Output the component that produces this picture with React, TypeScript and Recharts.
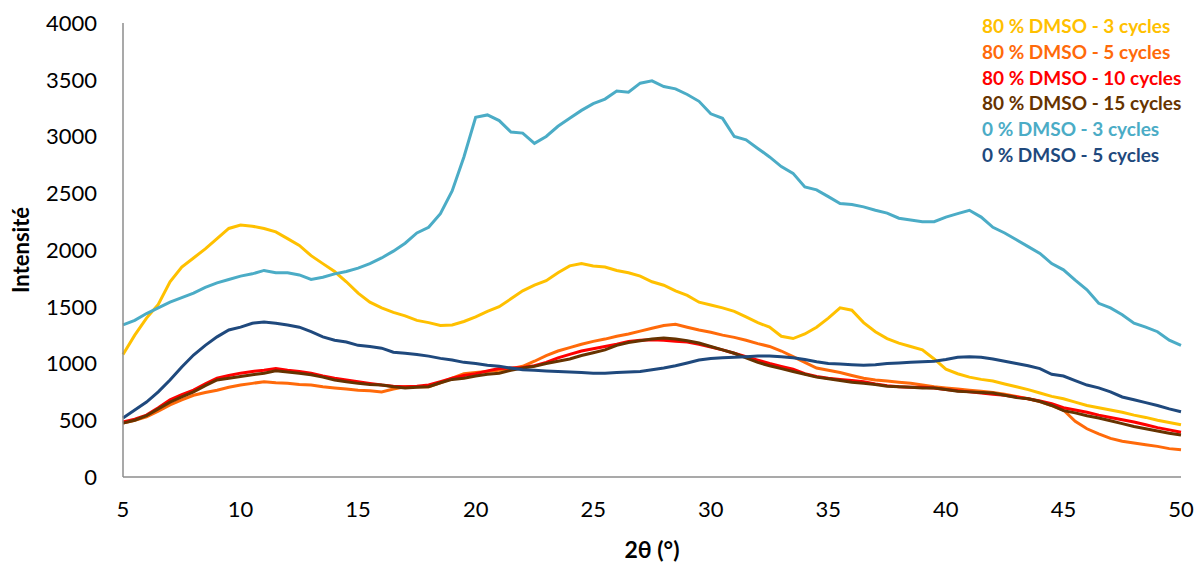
import { LineChart, Line, XAxis, YAxis } from "recharts";

// 2θ positions, every 0.5°
const angles = [
  5, 5.5, 6, 6.5, 7, 7.5, 8, 8.5, 9, 9.5, 10, 10.5, 11, 11.5, 12, 12.5, 13, 13.5, 14, 14.5,
  15, 15.5, 16, 16.5, 17, 17.5, 18, 18.5, 19, 19.5, 20, 20.5, 21, 21.5, 22, 22.5, 23, 23.5,
  24, 24.5, 25, 25.5, 26, 26.5, 27, 27.5, 28, 28.5, 29, 29.5, 30, 30.5, 31, 31.5, 32, 32.5,
  33, 33.5, 34, 34.5, 35, 35.5, 36, 36.5, 37, 37.5, 38, 38.5, 39, 39.5, 40, 40.5, 41, 41.5,
  42, 42.5, 43, 43.5, 44, 44.5, 45, 45.5, 46, 46.5, 47, 47.5, 48, 48.5, 49, 49.5, 50,
];

const dmso80c3 = [
  1080, 1250, 1400, 1520, 1720, 1850, 1930, 2010, 2100, 2190, 2220, 2210, 2190, 2160, 2100, 2040,
  1950, 1880, 1810, 1720, 1620, 1540, 1490, 1450, 1420, 1380, 1360, 1335, 1340, 1370, 1410, 1460,
  1500, 1570, 1640, 1690, 1730, 1800, 1860, 1880, 1860, 1850, 1820, 1800, 1770, 1720, 1690, 1640,
  1600, 1540, 1515, 1490, 1460, 1410, 1360, 1320, 1240, 1220, 1260, 1320, 1400, 1490, 1470, 1360,
  1280, 1220, 1180, 1150, 1120, 1040, 950, 910, 880, 860, 845, 820, 795, 770, 740, 710, 690, 660,
  630, 610, 590, 570, 545, 525, 500, 480, 460,
];

const dmso80c5 = [
  475, 500, 530, 580, 635, 680, 720, 745, 765, 790, 810, 825, 840, 830, 825, 815, 810, 795, 785,
  775, 765, 760, 750, 775, 795, 795, 795, 830, 870, 910, 920, 930, 940, 955, 975, 1020, 1070,
  1110, 1140, 1170, 1195, 1215, 1240, 1260, 1285, 1310, 1335, 1345, 1320, 1295, 1275, 1250, 1230,
  1205, 1175, 1150, 1110, 1060, 1010, 960, 940, 920, 895, 870, 855, 845, 835, 825, 810, 795, 785,
  775, 765, 755, 745, 730, 710, 690, 665, 630, 590, 490, 425, 380, 340, 315, 300, 285, 270, 250,
  240,
];

const dmso80c10 = [
  485, 510, 545, 610, 680, 725, 765, 820, 870, 895, 915, 930, 940, 955, 940, 930, 915, 890, 870,
  855, 840, 825, 810, 800, 795, 800, 810, 840, 870, 895, 910, 935, 955, 960, 965, 980, 1010, 1050,
  1080, 1110, 1130, 1150, 1170, 1195, 1205, 1210, 1205, 1195, 1190, 1170, 1145, 1120, 1090, 1060,
  1030, 1000, 975, 950, 910, 885, 870, 860, 850, 840, 820, 805, 795, 790, 790, 785, 770, 760, 750,
  740, 730, 720, 705, 690, 670, 645, 610, 590, 570, 545, 525, 505, 485, 460, 435, 415, 395,
];

const dmso80c15 = [
  475, 500, 540, 600, 660, 705, 750, 805, 855, 870, 885, 900, 915, 935, 925, 915, 900, 880, 855,
  840, 825, 815, 810, 795, 785, 790, 795, 830, 860, 870, 890, 905, 915, 940, 960, 975, 1000, 1020,
  1040, 1070, 1095, 1120, 1160, 1185, 1200, 1215, 1225, 1215, 1200, 1180, 1150, 1120, 1090, 1050,
  1010, 980, 955, 930, 905, 880, 865, 850, 835, 825, 815, 800, 795, 790, 785, 785, 770, 755, 750,
  745, 740, 720, 700, 690, 665, 630, 585, 565, 540, 520, 495, 470, 445, 425, 405, 385, 370,
];

const dmso0c3 = [
  1340, 1380, 1440, 1490, 1540, 1580, 1620, 1670, 1710, 1740, 1770, 1790, 1820, 1800, 1800, 1780,
  1740, 1760, 1790, 1810, 1840, 1880, 1930, 1990, 2060, 2150, 2200, 2320, 2520, 2820, 3170, 3190,
  3140, 3040, 3030, 2940, 3000, 3090, 3160, 3230, 3290, 3330, 3400, 3390, 3470, 3490, 3440, 3420,
  3370, 3310, 3200, 3160, 3000, 2970, 2895, 2820, 2735, 2675, 2555, 2530, 2470, 2410, 2400, 2380,
  2350, 2325, 2280, 2265, 2250, 2250, 2290, 2320, 2350, 2290, 2200, 2150, 2090, 2030, 1970, 1880,
  1825, 1735, 1650, 1530, 1490, 1430, 1355, 1320, 1280, 1205, 1160,
];

const dmso0c5 = [
  520, 590, 660, 750, 855, 970, 1075, 1160, 1235, 1295, 1320, 1355, 1365, 1355, 1340, 1320, 1280,
  1235, 1205, 1190, 1160, 1150, 1135, 1100, 1090, 1080, 1065, 1045, 1030, 1010, 1000, 985, 975,
  960, 945, 940, 935, 930, 925, 920, 915, 915, 920, 925, 930, 945, 960, 980, 1005, 1030, 1045,
  1050, 1055, 1060, 1065, 1065, 1060, 1050, 1035, 1015, 1000, 995, 990, 985, 990, 1000, 1005, 1010,
  1015, 1020, 1035, 1055, 1060, 1055, 1040, 1020, 1000, 980, 955, 905, 890, 850, 810, 785, 750,
  705, 680, 655, 630, 600, 575,
];

const xTicks = [5, 10, 15, 20, 25, 30, 35, 40, 45, 50];
const yTicks = [0, 500, 1000, 1500, 2000, 2500, 3000, 3500, 4000];

const series = [
  { key: "s1", name: "80 % DMSO - 3 cycles", color: "#FFC000", values: dmso80c3 },
  { key: "s2", name: "80 % DMSO - 5 cycles", color: "#FF6A0A", values: dmso80c5 },
  { key: "s3", name: "80 % DMSO - 10 cycles", color: "#FF0000", values: dmso80c10 },
  { key: "s4", name: "80 % DMSO - 15 cycles", color: "#663300", values: dmso80c15 },
  { key: "s5", name: "0 % DMSO - 3 cycles", color: "#4BACC6", values: dmso0c3 },
  { key: "s6", name: "0 % DMSO - 5 cycles", color: "#1F497D", values: dmso0c5 },
];

const data = angles.map((x, i) => {
  const row: Record<string, number> = { x };
  series.forEach((s) => {
    row[s.key] = s.values[i];
  });
  return row;
});

const FONT = "Lato, 'Open Sans', sans-serif";

export default function App() {
  return (
    <div style={{ position: "relative", width: 1190, height: 557, fontFamily: FONT }}>
      <LineChart
        width={1190}
        height={557}
        data={data}
        margin={{ top: 15, right: 17, bottom: 7, left: 0 }}
      >
        <XAxis
          dataKey="x"
          type="number"
          domain={[5, 50]}
          ticks={xTicks}
          tickLine={false}
          tickMargin={18}
          axisLine={{ stroke: "#8c8c8c", strokeWidth: 1.5 }}
          tick={{ fill: "#000", fontSize: 22, fontFamily: FONT }}
          height={81}
          label={{
            value: "2θ (°)",
            position: "insideBottom",
            offset: 0,
            fill: "#000",
            fontSize: 23,
            fontWeight: 700,
            fontFamily: FONT,
          }}
        />
        <YAxis
          type="number"
          domain={[0, 4000]}
          ticks={yTicks}
          tickLine={false}
          tickMargin={20}
          width={115}
          axisLine={{ stroke: "#8c8c8c", strokeWidth: 1.5 }}
          tick={{ fill: "#000", fontSize: 22, fontFamily: FONT }}
          label={{
            value: "Intensité",
            angle: -90,
            position: "insideLeft",
            offset: 13,
            fill: "#000",
            fontSize: 22,
            fontWeight: 700,
            fontFamily: FONT,
            style: { textAnchor: "middle" },
          }}
        />
        {series.map((s) => (
          <Line
            key={s.key}
            dataKey={s.key}
            name={s.name}
            stroke={s.color}
            strokeWidth={3}
            dot={false}
            type="linear"
            isAnimationActive={false}
          />
        ))}
      </LineChart>
      {/* légende : texte coloré seulement, comme dans Excel */}
      <div
        style={{
          position: "absolute",
          left: 974,
          top: 5,
          fontWeight: 700,
          fontSize: 19,
          lineHeight: "25.8px",
        }}
      >
        {series.map((s) => (
          <div key={s.key} style={{ color: s.color, whiteSpace: "nowrap" }}>
            {s.name}
          </div>
        ))}
      </div>
    </div>
  );
}
